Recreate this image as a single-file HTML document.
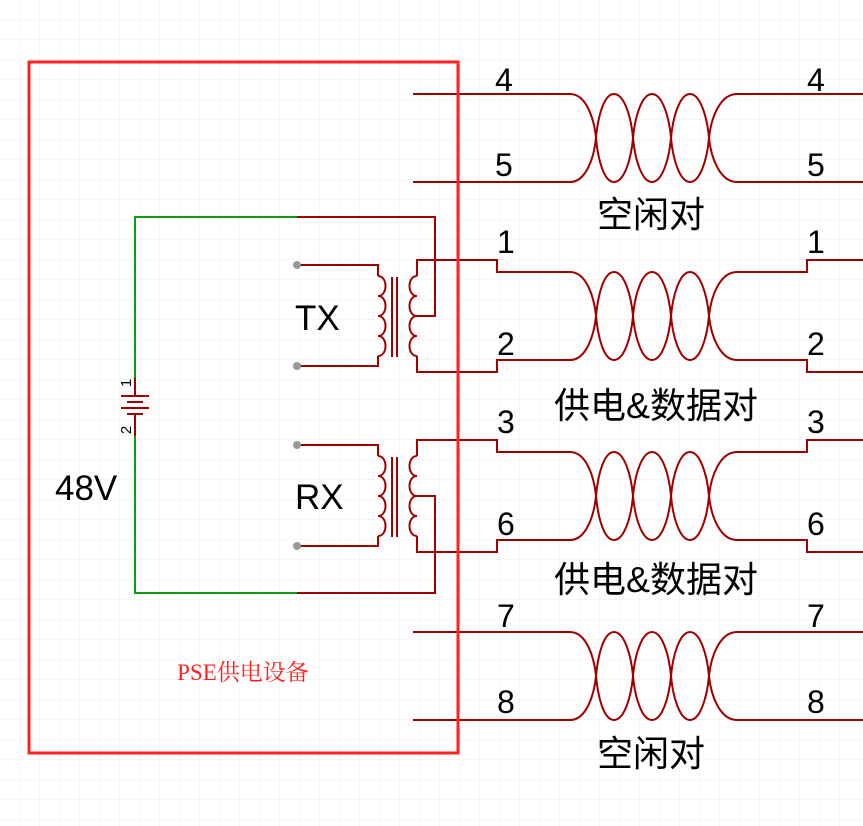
<!DOCTYPE html>
<html><head><meta charset="utf-8"><style>
html,body{margin:0;padding:0;background:#fff;}
svg{display:block;}
text{font-family:"Liberation Sans","Noto Sans CJK SC",sans-serif;}
</style></head><body>
<svg width="863" height="826" viewBox="0 0 863 826" xmlns="http://www.w3.org/2000/svg">
<defs>
<pattern id="g" width="20" height="20" patternUnits="userSpaceOnUse">
<path d="M20 0V20M0 20H20" fill="none" stroke="#ececec" stroke-width="1"/>
</pattern>
<g id="tw" fill="none" stroke="#a00000" stroke-width="2">
<path d="M570,0 C586,0 594,24 596,44 C598,66 604,88 614,88 C624,88 631,66 633,44 C635,22 642,0 652,0 C662,0 669,22 671,44 C673,66 680,88 690,88 C700,88 707,66 709,44 C711,24 720,0 737,0"/>
<path d="M570,88 C586,88 594,64 596,44 C598,22 604,0 614,0 C624,0 631,22 633,44 C635,66 642,88 652,88 C662,88 669,66 671,44 C673,22 680,0 690,0 C700,0 707,22 709,44 C711,64 720,88 737,88"/>
</g>
<g id="coil" fill="none" stroke="#a00000" stroke-width="2">
<path d="M0,0 c10,0 10,20 0,20 c10,0 10,20 0,20 c10,0 10,20 0,20 c10,0 10,20 0,20"/>
</g>
</defs>
<rect width="863" height="826" fill="url(#g)"/>

<g fill="none" stroke="#a00000" stroke-width="2">
<path d="M413,94H570M413,182H570M737,94H863M737,182H863"/>
<path d="M417,276V260H497V272H570M417,356V372H497V360H570M737,272H807V260H863M737,360H807V372H863"/>
<path d="M417,456V440H497V452H570M417,536V552H497V540H570M737,452H807V440H863M737,540H807V552H863"/>
<path d="M413,632H570M413,720H570M737,632H863M737,720H863"/>
<path d="M297,265H378V276M297,366H378V356"/>
<path d="M392,277V357M397,277V357"/>
<path d="M417,316H435V217H297"/>
<path d="M297,445H378V456M297,546H378V536"/>
<path d="M392,457V537M397,457V537"/>
<path d="M417,496H435V593H297"/>
<path d="M135,378V396M135,415V436"/>
<path d="M121,396H149M127,402H143M121,408H149M127,414H143"/>
</g>
<use href="#coil" x="378" y="276"/>
<g transform="translate(417,276) scale(-1,1)"><use href="#coil"/></g>
<use href="#coil" x="378" y="456"/>
<g transform="translate(417,456) scale(-1,1)"><use href="#coil"/></g>

<path d="M297,217H135V378M135,436V593H297" fill="none" stroke="#119911" stroke-width="2"/>
<circle cx="297" cy="265" r="4" fill="#999"/>
<circle cx="297" cy="366" r="4" fill="#999"/>
<circle cx="297" cy="445" r="4" fill="#999"/>
<circle cx="297" cy="546" r="4" fill="#999"/>

<use href="#tw" y="94"/>
<use href="#tw" y="272"/>
<use href="#tw" y="452"/>
<use href="#tw" y="632"/>

<rect x="29" y="62" width="429" height="691" fill="none" stroke="#ff2020" stroke-width="3"/>

<g font-size="32" fill="#000">
<text x="495" y="91">4</text><text x="495" y="176">5</text>
<text x="807" y="91">4</text><text x="807" y="176">5</text>
<text x="497" y="253">1</text><text x="497" y="355">2</text>
<text x="807" y="253">1</text><text x="807" y="355">2</text>
<text x="497" y="433">3</text><text x="497" y="535">6</text>
<text x="807" y="433">3</text><text x="807" y="535">6</text>
<text x="497" y="627">7</text><text x="497" y="713">8</text>
<text x="807" y="627">7</text><text x="807" y="713">8</text>
</g>
<g font-size="35" fill="#000">
<text x="295" y="330">TX</text>
<text x="295" y="509">RX</text>
<text x="55" y="500">48V</text>
</g>
<g font-size="36" fill="#000" text-anchor="middle">
<text x="651" y="227">空闲对</text>
<text x="656" y="418">供电&amp;数据对</text>
<text x="656" y="592">供电&amp;数据对</text>
<text x="651" y="766">空闲对</text>
</g>
<text x="131" y="383" font-size="15" transform="rotate(-90 131 383)" text-anchor="middle" fill="#000">1</text>
<text x="131" y="430" font-size="15" transform="rotate(-90 131 430)" text-anchor="middle" fill="#000">2</text>
<text x="243" y="680" font-size="23" fill="#ff2020" text-anchor="middle" style="font-family:'Liberation Serif','Noto Serif CJK SC',serif">PSE供电设备</text>
</svg>
</body></html>
